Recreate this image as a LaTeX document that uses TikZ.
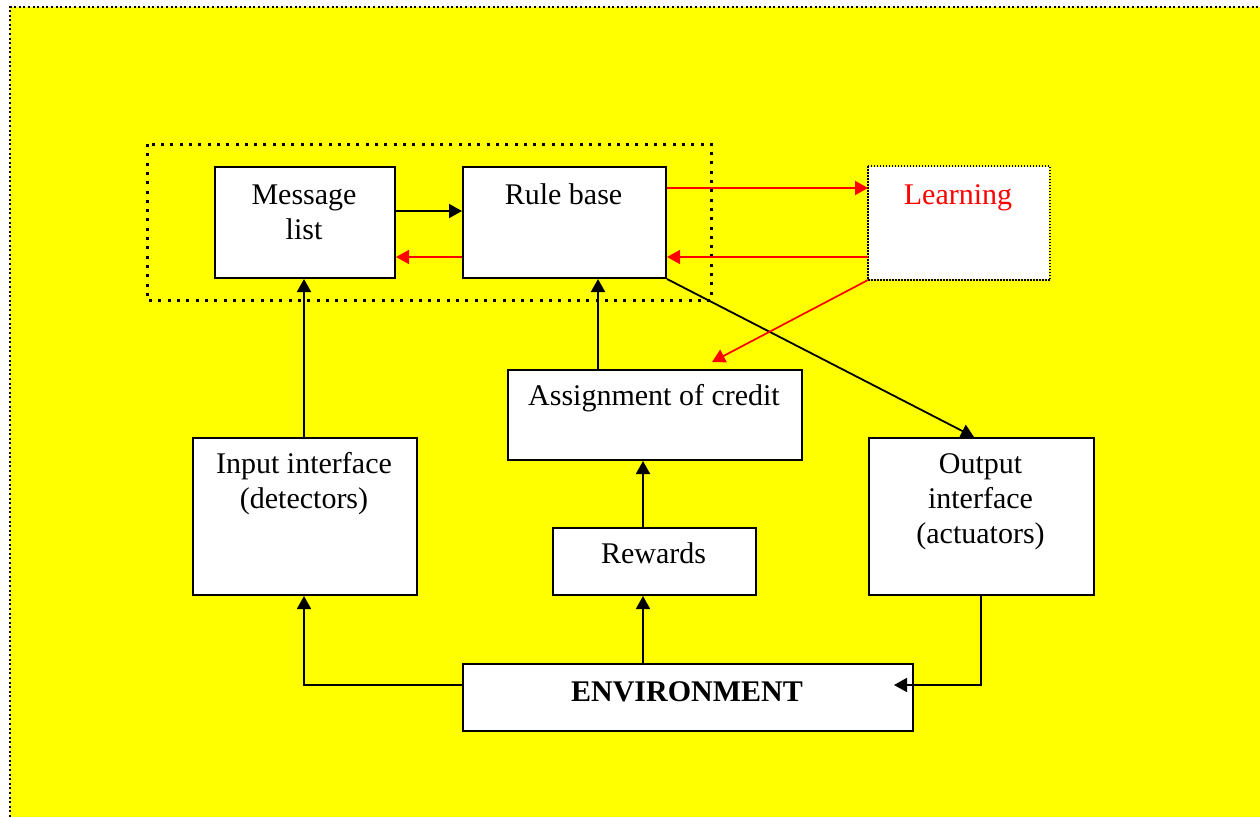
\documentclass[tikz,border=0pt]{standalone}
\usepackage{fontspec}
\setmainfont{Liberation Serif}
\usetikzlibrary{arrows.meta,calc}
\definecolor{bgyellow}{RGB}{255,255,0}
\definecolor{lred}{RGB}{255,0,0}

\begin{document}
\begin{tikzpicture}[x=1pt,y=-1pt,
  box/.style={draw, fill=white, line width=2pt, inner sep=0pt, anchor=north west},
  txt/.style={font=\fontsize{30}{35}\selectfont, align=center, anchor=base, inner sep=0pt},
  arr/.style={line width=1.8pt, -{Triangle[length=13pt,width=14pt]}},
  rarr/.style={draw=lred, fill=lred, line width=1.7pt, -{Triangle[length=13pt,width=14pt]}}
]
\useasboundingbox (0,0) rectangle (1260,817);
\fill[white] (0,0) rectangle (1260,817);

% page background with its dotted frame
\fill[bgyellow] (10,7) rectangle (1260,817);
\draw[line width=2pt, dash pattern=on 2pt off 2.6pt] (10,817) -- (10,7) -- (1260,7);

% dotted frame grouping message list and rule base
\draw[line width=3pt, dash pattern=on 3pt off 6.3pt] (147,144) rectangle (711,300);

% boxes
\node[box, minimum width=180pt, minimum height=111pt] (msg)    at (214,166) {};
\node[box, minimum width=203pt, minimum height=111pt] (rule)   at (462,166) {};
\node[box, draw=none, minimum width=180pt, minimum height=112pt] (learn) at (868,166) {};
\draw[line width=1.5pt, dash pattern=on 1.5pt off 1.5pt] (learn.north west) rectangle (learn.south east);
\node[box, minimum width=294pt, minimum height=90pt]  (assign) at (507,369) {};
\node[box, minimum width=224pt, minimum height=157pt] (input)  at (192,437) {};
\node[box, minimum width=225pt, minimum height=157pt] (output) at (868,437) {};
\node[box, minimum width=203pt, minimum height=67pt]  (reward) at (552,527) {};
\node[box, minimum width=450pt, minimum height=67pt]  (env)    at (462,663) {};

% labels (base anchor sits on the last line)
\node[txt] (msgT)    at (304,239)   {Message\\list};
\node[txt] (ruleT)   at (563.5,204) {Rule base};
\node[txt, text=lred] (learnT) at (958,204) {Learning};
\node[txt] (assignT) at (654,405)   {Assignment of credit};
\node[txt] (inputT)  at (304,508)   {Input interface\\(detectors)};
\node[txt] (outputT) at (980.5,543) {Output\\interface\\(actuators)};
\node[txt] (rewardT) at (653.5,563) {Rewards};
\node[txt, font=\fontsize{30}{35}\selectfont\bfseries] (envT) at (687,701) {ENVIRONMENT};

% black connectors
\draw[arr] (msg.east |- 0,211) -- (rule.west |- 0,211);
\draw[arr] (input.north -| 304,0) -- (msg.south -| 304,0);
\draw[arr] (assign.north -| 598,0) -- (rule.south -| 598,0);
\draw[arr] (reward.north -| 643,0) -- (assign.south -| 643,0);
\draw[arr] (env.north -| 643,0) -- (reward.south -| 643,0);
\draw[arr] (env.west |- 0,685) -| (input.south -| 304,0);
\coordinate (envIn) at ($(env.east |- 0,685)+(-20,0)$);
\draw[arr] (output.south -| 981,0) |- (envIn);
\draw[arr] (rule.south east) -- ($(output.north west)+(106,0)$);

% red connectors for learning
\coordinate (credTip) at (712,362);
\draw[rarr] (rule.east |- 0,188) -- (learn.west |- 0,188);
\draw[rarr] (learn.west |- 0,257) -- (rule.east |- 0,257);
\draw[rarr] (rule.west |- 0,257) -- (msg.east |- 0,257);
\draw[rarr] (learn.south west) -- (credTip);
\end{tikzpicture}
\end{document}
